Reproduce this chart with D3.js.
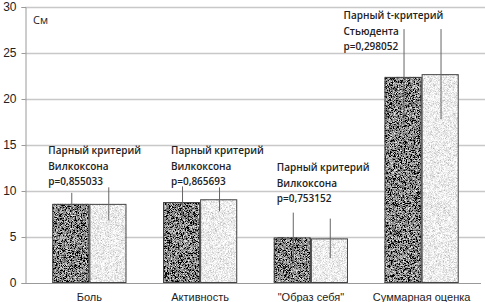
<!DOCTYPE html>
<html>
<head>
<meta charset="utf-8">
<script src="https://cdn.jsdelivr.net/npm/d3@7"></script>
<style>
  body { margin: 0; background: #fff; }
  svg { display: block; font-family: "Open Sans", sans-serif; }
</style>
</head>
<body>
<svg id="chart" width="485" height="302"></svg>
<script>
// данные
const categories = ["Боль", "Активность", "\"Образ себя\"", "Суммарная оценка"];
const seriesKeys = ["before", "after"];
const valuesBefore = [8.6, 8.8, 4.95, 22.4];
const valuesAfter = [8.6, 9.1, 4.85, 22.7];
const errBefore = [1.2, 1.7, 2.7, 5.2];
const errAfter = [1.8, 1.3, 2.15, 4.9];
const yTicks = [0, 5, 10, 15, 20, 25, 30];
const notes = [
    ["Парный критерий", "Вилкоксона", "p=0,855033"],
    ["Парный критерий", "Вилкоксона", "p=0,865693"],
    ["Парный критерий", "Вилкоксона", "p=0,753152"],
    ["Парный t-критерий", "Стьюдента", "p=0,298052"]
];

const svg = d3.select("#chart");
const axisX = 25, plotTop = 7, plotBottom = 283, plotRight = 485;

const y = d3.scaleLinear().domain([0, 30]).range([plotBottom, plotTop]);
const x = d3.scaleBand().domain(categories).range([34, 477])
    .paddingInner(0.33).paddingOuter(0.165);
const xs = d3.scaleBand().domain(seriesKeys).range([0, x.bandwidth()]);

// шум для заливки
const defs = svg.append("defs");
function noiseFilter(id, slope, intercept, seed) {
    const f = defs.append("filter").attr("id", id)
        .attr("x", 0).attr("y", 0).attr("width", 1).attr("height", 1);
    f.append("feTurbulence").attr("type", "fractalNoise")
        .attr("baseFrequency", 2.6).attr("numOctaves", 2).attr("seed", seed).attr("result", "n");
    const row = `${slope} 0 0 0 ${intercept}`;
    f.append("feColorMatrix").attr("in", "n").attr("type", "matrix")
        .attr("values", `${row} ${row} ${row} 0 0 0 0 1`).attr("result", "g");
    f.append("feComposite").attr("in", "g").attr("in2", "SourceAlpha").attr("operator", "in");
}
noiseFilter("darkNoise", 2.2, -0.85, 3);
noiseFilter("lightNoise", 1.2, 0.24, 7);

// сетка
svg.append("g").selectAll("line").data(yTicks.filter(d => d > 0)).join("line")
    .attr("x1", axisX).attr("x2", plotRight)
    .attr("y1", d => Math.round(y(d)) + 0.5).attr("y2", d => Math.round(y(d)) + 0.5)
    .attr("stroke", "#c8c8c8").attr("stroke-width", 1.5);

// ось Y
const yAxis = svg.append("g").attr("transform", `translate(${axisX + 0.5},0)`)
    .call(d3.axisLeft(y).tickValues(yTicks).tickSize(4).tickPadding(5));
yAxis.select(".domain").attr("stroke", "#9a9a9a");
yAxis.selectAll(".tick line").attr("stroke", "#9a9a9a");
yAxis.selectAll("text").attr("font-size", 12).attr("fill", "#222");

// ось X
svg.append("line").attr("x1", axisX).attr("x2", plotRight - 4)
    .attr("y1", plotBottom + 0.5).attr("y2", plotBottom + 0.5).attr("stroke", "#9a9a9a");
const xAxis = svg.append("g").attr("transform", `translate(0,${plotBottom})`)
    .call(d3.axisBottom(x).tickSize(0).tickPadding(10));
xAxis.select(".domain").remove();
xAxis.selectAll("text").attr("font-size", 11).attr("fill", "#222");

// столбцы
const rows = categories.map((c, i) => ({
    cat: c,
    items: [
        {key: "before", v: valuesBefore[i], e: errBefore[i]},
        {key: "after", v: valuesAfter[i], e: errAfter[i]}
    ]
}));

const groups = svg.append("g").selectAll("g").data(rows).join("g")
    .attr("transform", d => `translate(${x(d.cat)},0)`);

groups.selectAll("rect.fill").data(d => d.items).join("rect")
    .attr("class", "fill")
    .attr("x", d => xs(d.key)).attr("width", xs.bandwidth())
    .attr("y", d => y(d.v)).attr("height", d => y(0) - y(d.v))
    .attr("fill", "#000")
    .attr("filter", d => d.key === "before" ? "url(#darkNoise)" : "url(#lightNoise)");

groups.selectAll("rect.edge").data(d => d.items).join("rect")
    .attr("class", "edge")
    .attr("x", d => xs(d.key) + 0.5).attr("width", xs.bandwidth() - 1)
    .attr("y", d => y(d.v) + 0.5).attr("height", d => y(0) - y(d.v) - 1)
    .attr("fill", "none").attr("stroke", "#444").attr("stroke-width", 1);

// погрешности
groups.selectAll("line.err").data(d => d.items).join("line")
    .attr("class", "err")
    .attr("x1", d => Math.round(xs(d.key) + xs.bandwidth() / 2) + 0.5)
    .attr("x2", d => Math.round(xs(d.key) + xs.bandwidth() / 2) + 0.5)
    .attr("y1", d => y(d.v + d.e)).attr("y2", d => y(d.v - d.e))
    .attr("stroke", "#666").attr("stroke-width", 1);

// подписи
svg.append("text").attr("x", 33).attr("y", 24).attr("font-size", 11)
    .attr("fill", "#222").text("См");

const noteDx = [-4, 8, 3, -41];
const noteY = [154, 154, 171, 19];
notes.forEach((lines, i) => {
    const t = svg.append("text")
        .attr("x", x(categories[i]) + noteDx[i]).attr("y", noteY[i])
        .attr("font-size", 10).attr("font-weight", 600).attr("fill", "#222");
    lines.forEach((s, j) => {
        t.append("tspan").attr("x", x(categories[i]) + noteDx[i])
            .attr("dy", j === 0 ? 0 : 15.5).text(s);
    });
});
</script>
</body>
</html>
